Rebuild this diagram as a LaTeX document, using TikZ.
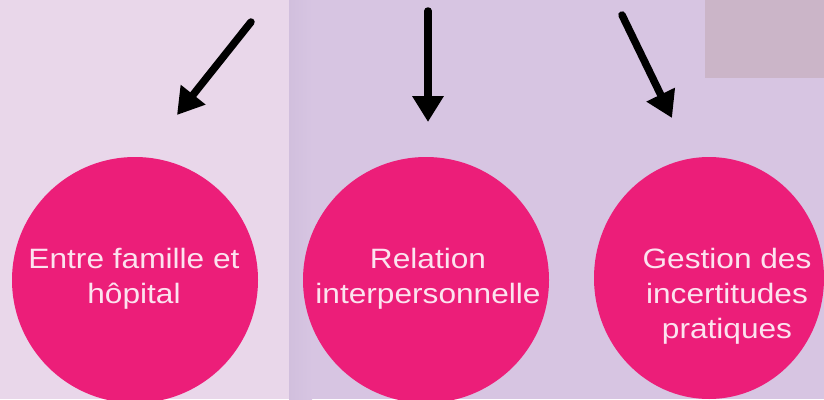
\documentclass[tikz,border=0pt]{standalone}
\usepackage{fontspec}
\setmainfont{Liberation Sans}[FakeStretch=1.13]
\usetikzlibrary{arrows.meta,shapes.geometric}
\definecolor{bgleft}{HTML}{E9D7EA}
\definecolor{bgright}{HTML}{D7C5E2}
\definecolor{bgshade}{HTML}{D1BFDD}
\definecolor{cornerbox}{HTML}{CBB5C8}
\definecolor{bubble}{HTML}{EC1E79}
\definecolor{bubbletext}{HTML}{FCE3EF}
\tikzset{
  bubblenode/.style={fill=bubble, draw=none, inner sep=0pt},
  labeltext/.style={text=bubbletext, align=center, inner sep=0pt,
    font=\fontsize{28}{35}\selectfont},
  bigarrow/.style={draw=black, line width=7.5pt, line cap=round,
    -{Triangle[length=26pt,width=30pt]}}
}
\begin{document}
\begin{tikzpicture}[x=1pt,y=-1pt]
  \useasboundingbox (0,0) rectangle (824,399);
  % backgrounds
  \fill[bgleft] (0,0) rectangle (289,399);
  \fill[bgright] (289,0) rectangle (824,399);
  \shade[left color=bgshade, right color=bgright] (289,-1) rectangle (312,400);
  \fill[cornerbox] (705,0) rectangle (824,78);
  % circles
  \node[bubblenode, circle, minimum size=246pt] (c1) at (135,280) {};
  \node[bubblenode, circle, minimum size=246pt] (c2) at (426,280) {};
  \node[bubblenode, ellipse, minimum width=230pt, minimum height=242pt] (c3) at (709,278) {};
  % texts
  \node[labeltext] (t1) at (134,279) {Entre famille et\\hôpital};
  \node[labeltext] (t2) at (428,279) {Relation\\interpersonnelle};
  \node[labeltext] (t3) at (727,296) {Gestion des\\incertitudes\\pratiques};
  % arrows
  \coordinate (a1s) at (251,22);
  \coordinate (a1e) at (177,115);
  \coordinate (a2s) at (428,11);
  \coordinate (a2e) at (428,122);
  \coordinate (a3s) at (622,15);
  \coordinate (a3e) at (672,118);
  \draw[bigarrow] (a1s) -- (a1e);
  \draw[bigarrow] (a2s) -- (a2e);
  \draw[bigarrow] (a3s) -- (a3e);
\end{tikzpicture}
\end{document}
